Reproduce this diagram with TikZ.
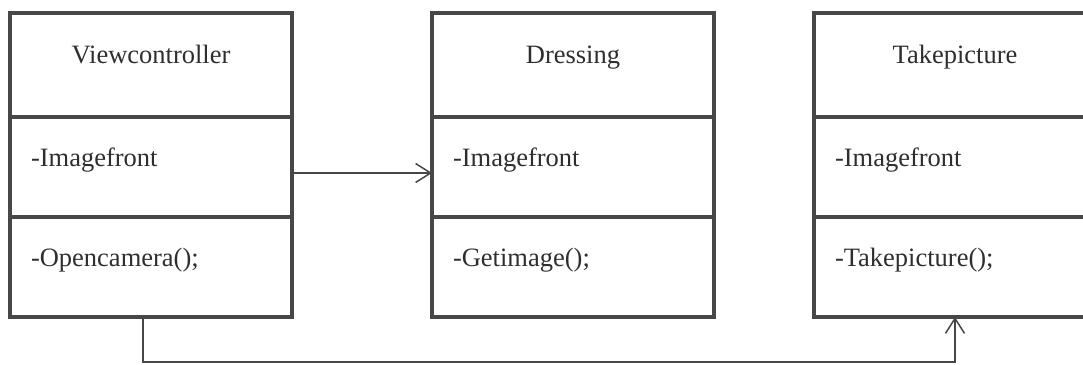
\documentclass[tikz,border=0pt]{standalone}
\usepackage{fontspec}
\setmainfont{Liberation Serif}
\usepackage{tikz}
\usetikzlibrary{arrows.meta, positioning}
\definecolor{umlline}{HTML}{474747}
\definecolor{umltext}{HTML}{2E2E2E}
\tikzset{
		classpart/.style={draw=umlline, line width=4pt, outer sep=0pt, inner ysep=0pt, inner xsep=21pt,
			text width=240pt, text=umltext, font=\fontsize{26.5}{30}\selectfont},
		classname/.style={classpart, align=center, text height=51pt, text depth=53pt},
		classmember/.style={classpart, align=left, text height=50pt, text depth=50pt},
		assoc/.style={draw=umlline, line width=1.5pt}
	}
\begin{document}
\begin{tikzpicture}[x=1pt, y=1pt, >={Straight Barb[length=15pt,width=19pt]}, node distance = 0pt]
				\clip (0,0) rectangle (1083,364);
				\node[classname, anchor=north west] (vc-name) at (10,351) {Viewcontroller};
				\node[classmember] (vc-attr) [below = of vc-name] {-Imagefront};
				\node[classmember] (vc-op)   [below = of vc-attr] {-Opencamera();};

				\node[classname] (dr-name) [right = 140pt of vc-name] {Dressing};
				\node[classmember] (dr-attr) [below = of dr-name] {-Imagefront};
				\node[classmember] (dr-op)   [below = of dr-attr] {-Getimage();};

				\node[classname] (tp-name) [right = 100pt of dr-name] {Takepicture};
				\node[classmember] (tp-attr) [below = of tp-name] {-Imagefront};
				\node[classmember] (tp-op)   [below = of tp-attr] {-Takepicture();};

				\coordinate (low) at (0,2);

				\draw[assoc, ->] ([yshift=-6pt]vc-attr.east) -- ([yshift=-6pt]dr-attr.west);
				\draw[assoc, ->] ([xshift=-8pt]vc-op.south) -- ([xshift=-8pt]vc-op.south |- low) -| (tp-op.south);
			\end{tikzpicture}
\end{document}
